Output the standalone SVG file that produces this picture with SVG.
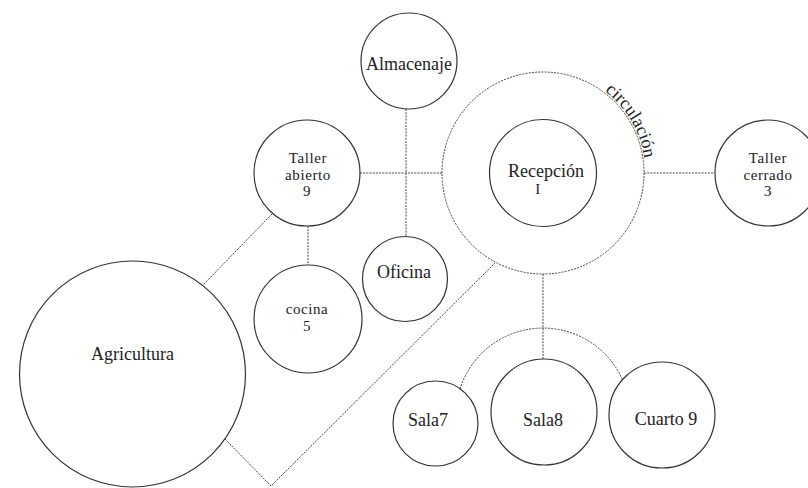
<svg xmlns="http://www.w3.org/2000/svg" width="808" height="488" viewBox="0 0 808 488">
<style>
  .node { fill: #fff; stroke: #333; stroke-width: 1.2; }
  .circ { fill: none; stroke: #444; stroke-width: 1; stroke-dasharray: 2 1.2; }
  .link { fill: none; stroke: #444; stroke-width: 1; stroke-dasharray: 2 1.2; }
  .lbl { font-family: 'Liberation Serif', 'Times New Roman', serif; font-size: 18px; fill: #222; text-anchor: middle; }
  .stk { font-size: 15px; letter-spacing: 0.6px; }
</style>
<defs>
  <path id="circPath" d="M 604.7 91.1 A 102.5 102.5 0 0 1 643.9 190.8"/>
</defs>
<rect width="808" height="488" fill="#fff"/>
<g id="connectors">
  <line class="link" x1="360" y1="173" x2="442" y2="173"/>
  <line class="link" x1="406" y1="109" x2="406" y2="237"/>
  <line class="link" x1="308" y1="226" x2="308" y2="265"/>
  <line class="link" x1="272" y1="214" x2="203" y2="285"/>
  <polyline class="link" points="225,439 271,486 495,263"/>
  <line class="link" x1="644" y1="173" x2="715" y2="173"/>
  <line class="link" x1="543" y1="274" x2="543" y2="359"/>
  <path class="link" d="M 460 389 A 87 87 0 0 1 622.5 379.7"/>
</g>
<g id="circulacion">
  <circle class="circ" cx="543" cy="173" r="101"/>
  <text class="lbl" style="text-anchor:start"><textPath href="#circPath">circulación</textPath></text>
</g>
<g id="almacenaje">
  <circle class="node" cx="409" cy="61" r="48"/>
  <text class="lbl" x="409" y="70">Almacenaje</text>
</g>
<g id="recepcion">
  <circle class="node" cx="543" cy="173" r="53.5"/>
  <text class="lbl" x="546" y="177">Recepción</text>
  <text class="lbl stk" x="538" y="194">I</text>
</g>
<g id="taller-abierto">
  <circle class="node" cx="307" cy="173" r="53"/>
  <text class="lbl stk" x="308" y="163">Taller</text>
  <text class="lbl stk" x="308" y="179.6">abierto</text>
  <text class="lbl stk" x="307" y="196.2">9</text>
</g>
<g id="oficina">
  <circle class="node" cx="405" cy="279" r="42.5"/>
  <text class="lbl" x="404" y="278">Oficina</text>
</g>
<g id="cocina">
  <circle class="node" cx="308" cy="319" r="54"/>
  <text class="lbl stk" x="307" y="314">cocina</text>
  <text class="lbl stk" x="307" y="330.6">5</text>
</g>
<g id="agricultura">
  <circle class="node" cx="132.5" cy="374" r="113"/>
  <text class="lbl" x="132.5" y="360">Agricultura</text>
</g>
<g id="taller-cerrado">
  <circle class="node" cx="768" cy="173" r="53"/>
  <text class="lbl stk" x="768" y="163">Taller</text>
  <text class="lbl stk" x="768" y="179.6">cerrado</text>
  <text class="lbl stk" x="768" y="196.2">3</text>
</g>
<g id="sala7">
  <circle class="node" cx="435.5" cy="423.5" r="42.5"/>
  <text class="lbl" x="428" y="426">Sala7</text>
</g>
<g id="sala8">
  <circle class="node" cx="544" cy="412" r="53"/>
  <text class="lbl" x="543" y="426">Sala8</text>
</g>
<g id="cuarto9">
  <circle class="node" cx="662" cy="415" r="53"/>
  <text class="lbl" x="666" y="425">Cuarto 9</text>
</g>
</svg>
